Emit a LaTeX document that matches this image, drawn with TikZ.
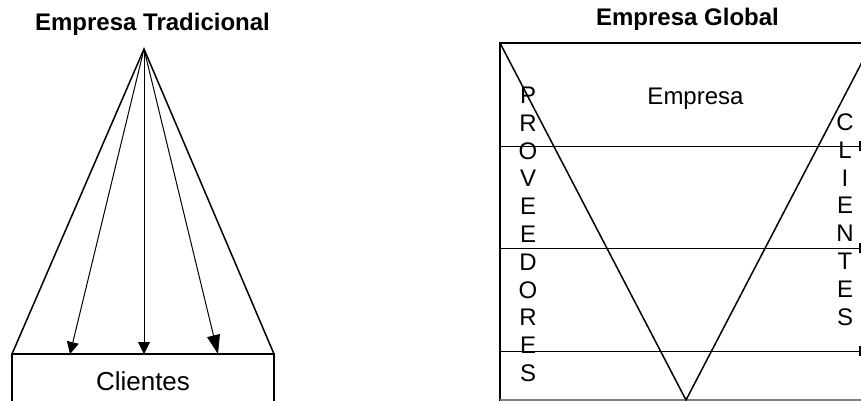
\documentclass[tikz,border=0pt]{standalone}
\usepackage{fontspec}
\setmainfont{Liberation Sans}
\usetikzlibrary{arrows.meta}
\begin{document}
\begin{tikzpicture}[x=1pt,y=-1pt,
  titletext/.style={font=\bfseries\fontsize{24}{28}\selectfont, anchor=base, inner sep=0pt},
  labeltext/.style={anchor=base, inner sep=0pt},
  lettertext/.style={font=\fontsize{24}{28}\selectfont, anchor=base, inner sep=0pt},
  heavy/.style={line width=1.8pt},
  medium/.style={line width=1.5pt},
  thin/.style={line width=1pt},
  arr/.style={thin, -{Triangle[length=12pt,width=12pt]}},
  bigarr/.style={thin, -{Triangle[length=19pt,width=13pt]}}
]
\clip (0,0) rectangle (861,400);
% ---------------- left: Empresa Tradicional
\node[titletext] (t1) at (152.5,30) {Empresa Tradicional};
\coordinate (apex) at (144,49);
\coordinate (bl) at (12,354);
\coordinate (br) at (274,354);
\coordinate (bld) at (12,410);
\coordinate (brd) at (274,410);
\coordinate (a1) at (70,354);
\coordinate (a2) at (144,354);
\coordinate (a3) at (218,354);
\draw[medium] (bl) -- (apex) -- (br);
\draw[medium] (bld) -- (bl) -- (br) -- (brd);
\draw[arr] (apex) -- (a1);
\draw[arr] (apex) -- (a2);
\draw[bigarr] (apex) -- (a3);
\node[labeltext, font=\fontsize{26}{30}\selectfont] (cli) at (143,390) {Clientes};
% ---------------- right: Empresa Global
\node[titletext] (t2) at (687.5,25) {Empresa Global};
\coordinate (gtl) at (500,43);
\coordinate (gtr) at (872,43);
\coordinate (gtrr) at (900,43);
\coordinate (gbl) at (500,410);
\coordinate (gv) at (686,400);
\coordinate (gbot1) at (500,400);
\coordinate (gbot2) at (900,400);
\draw[heavy] (gbl) -- (gtl) -- (gtrr);
\draw[medium, draw=gray] (gbot1) -- (gbot2);
\draw[medium] (gtl) -- (gv) -- (gtr);
\foreach \yy [count=\k] in {146,248,351}{
  \coordinate (hl\k) at (500,\yy);
  \coordinate (hr\k) at (860,\yy);
  \draw[thin] (hl\k) -- (hr\k);
  \draw[line width=1.6pt] ([yshift=-5pt]hr\k) -- ([yshift=5pt]hr\k);
}
\node[labeltext, font=\fontsize{24}{28}\selectfont] (emp) at (695.5,104) {Empresa};
\foreach \l [count=\i] in {P,R,O,V,E,E,D,O,R,E,S}{
  \node[lettertext] (prov\i) at (528,{103.5+27.8*(\i-1)}) {\l};
}
\foreach \l [count=\i] in {C,L,I,E,N,T,E,S}{
  \node[lettertext] (cl\i) at (845,{130.5+27.8*(\i-1)}) {\l};
}
\end{tikzpicture}
\end{document}
